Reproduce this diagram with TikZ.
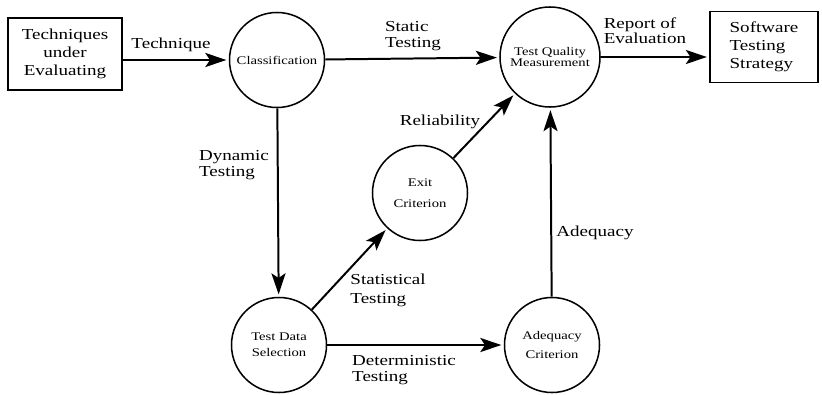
\documentclass[tikz,border=0pt]{standalone}
\usepackage{fontspec}
\setmainfont{Liberation Serif}[FakeStretch=1.25]
\usepackage{tikz}
\usetikzlibrary{arrows.meta}
\newcommand{\lsize}[1]{\fontsize{13}{#1}\selectfont}
\newcommand{\csize}[1]{\fontsize{10}{#1}\selectfont}

\begin{document}
\begin{tikzpicture}[
        x=0.03cm, y=-0.03cm,
        >={Stealth[length=18pt,width=12pt,inset=4pt]},
        proc/.style={circle,draw=black,line width=1.3pt,minimum size=2.85cm,
                     inner sep=0,align=center,font=\csize{12pt}},
        ext/.style={rectangle,draw=black,line width=1.3pt,inner sep=0,
                    align=center,font=\lsize{15.5pt}},
        lbl/.style={inner sep=0,align=left,font=\lsize{15pt}},
        flow/.style={->,line width=1.7pt,shorten >=2pt}
      ]
      \useasboundingbox (0,0) rectangle (822,394);
      % processes and terminators
      \node (src) [ext,minimum width=3.42cm,minimum height=2.16cm] at (65,54) {Techniques\\under\\Evaluating};
      \node (class) [proc] at (277,60) {Classification};
      \node (tqm) [proc,minimum size=3cm,font=\csize{9.5pt}] at (550,57) {Test Quality\\Measurement};
      \node (strat) [ext,minimum width=3.24cm,minimum height=2.13cm,align=left] at (764,47) {Software\\Testing\\Strategy};
      \node (exit) [proc,font=\csize{18pt}] at (420,193) {Exit\\Criterion};
      \node (tds) [proc,font=\csize{13.6pt}] at (279,345) {Test Data\\Selection};
      \node (adq) [proc,font=\csize{16pt}] at (552,345) {Adequacy\\Criterion};
      % flows
      \draw[flow] (src.east |- class) -- (class);
      \draw[flow] (class) -- (tqm);
      \draw[flow] (tqm) -- (tqm -| strat.west);
      \draw[flow] (class) -- (tds);
      \draw[flow] (tds) -- (exit);
      \draw[flow] (exit) -- (tqm);
      \draw[flow] (tds) -- (adq);
      \draw[flow] (adq) -- (tqm);
      % flow labels
      \node (lTech) [lbl] at (171,45) {Technique};
      \node (lStatic) [lbl,font=\lsize{13pt}] at (413,36) {Static\\Testing};
      \node (lReport) [lbl,font=\lsize{13pt}] at (645,31) {Report of\\Evaluation};
      \node (lDyn) [lbl,font=\lsize{13pt}] at (234,165) {Dynamic\\Testing};
      \node (lRel) [lbl] at (440,122) {Reliability};
      \node (lStat) [lbl,font=\lsize{16pt}] at (388,290) {Statistical\\Testing};
      \node (lDet) [lbl,font=\lsize{14pt}] at (404,370) {Deterministic\\Testing};
      \node (lAdq) [lbl] at (595,233) {Adequacy};
    \end{tikzpicture}
\end{document}
